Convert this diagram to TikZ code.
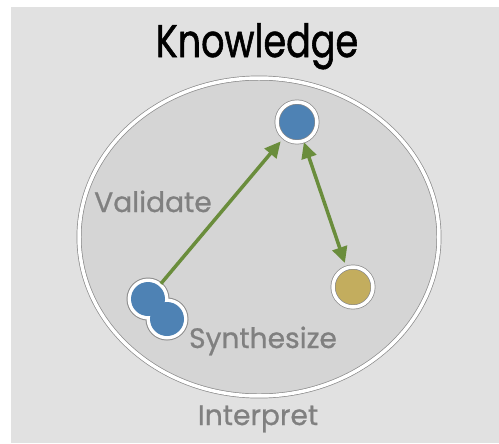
\documentclass[tikz,border=0pt]{standalone}
\usepackage{fontspec}
\setmainfont{Poppins}
\newfontfamily\titlefont[FakeStretch=0.8,FakeBold=1.2]{Poppins}
\newfontfamily\labelfont[FakeBold=0.8]{Poppins}
\usetikzlibrary{arrows.meta}
\definecolor{bgcol}{HTML}{E1E1E1}
\definecolor{ringfill}{HTML}{D5D5D5}
\definecolor{ringgray}{HTML}{8A8A8A}
\definecolor{dotblue}{HTML}{4E82B4}
\definecolor{dotgold}{HTML}{C3AD5E}
\definecolor{arrgreen}{HTML}{6A8D3C}
\definecolor{labgray}{HTML}{808080}

\tikzset{
  dot/.style={circle, inner sep=0pt, minimum size=0.8cm, draw=ringgray, line width=0.4pt,
    double=white, double distance=0.07cm},
  greentip/.tip={Triangle[length=0.32cm, width=0.3cm]},
  link/.style={draw=arrgreen, line width=0.07cm},
  steplabel/.style={text=labgray, anchor=base, inner sep=0pt, font=\labelfont\fontsize{16}{18}\selectfont}
}

\begin{document}
\begin{tikzpicture}[x=0.02cm, y=-0.02cm]
			%%%%% START %%%%%
			\useasboundingbox (0,0) rectangle (499,443);
			\fill[white] (0,0) rectangle (499,443);
			\fill[bgcol] (11,7) rectangle (499,443);
			
			\node[anchor=base, inner sep=0pt, font=\titlefont\fontsize{26}{30}\selectfont] (title) at (257,57) {Knowledge};
			
			% the big ring
			\draw[draw=ringgray, line width=0.4pt, double=white, double distance=0.07cm, fill=ringfill]
			  (259,237) ellipse (3.6cm and 3.18cm);
			
			\node[dot, fill=dotblue] (top) at (297,122) {};
			\node[dot, fill=dotgold] (gold) at (353,287) {};
			
			% twin dot
			\coordinate (syn1) at (148,299);
			\coordinate (syn2) at (167,319);
			\foreach \c in {syn1,syn2} \fill[ringgray] (\c) circle (0.43cm);
			\foreach \c in {syn1,syn2} \fill[white] (\c) circle (0.41cm);
			\foreach \c in {syn1,syn2} \fill[dotblue] (\c) circle (0.34cm);
			
			\draw[link, -greentip, shorten <=0.4cm, shorten >=0.1cm] (syn1) -- (top);
			\draw[link, greentip-greentip, shorten <=0.02cm, shorten >=0.1cm] (top) -- (gold);
			
			\node[steplabel] (validate) at (153,212) {Validate};
			\node[steplabel] (synth) at (263,348) {Synthesize};
			\node[steplabel] (interp) at (258,425) {Interpret};
			%%%%% END %%%%%
\end{tikzpicture}
\end{document}
